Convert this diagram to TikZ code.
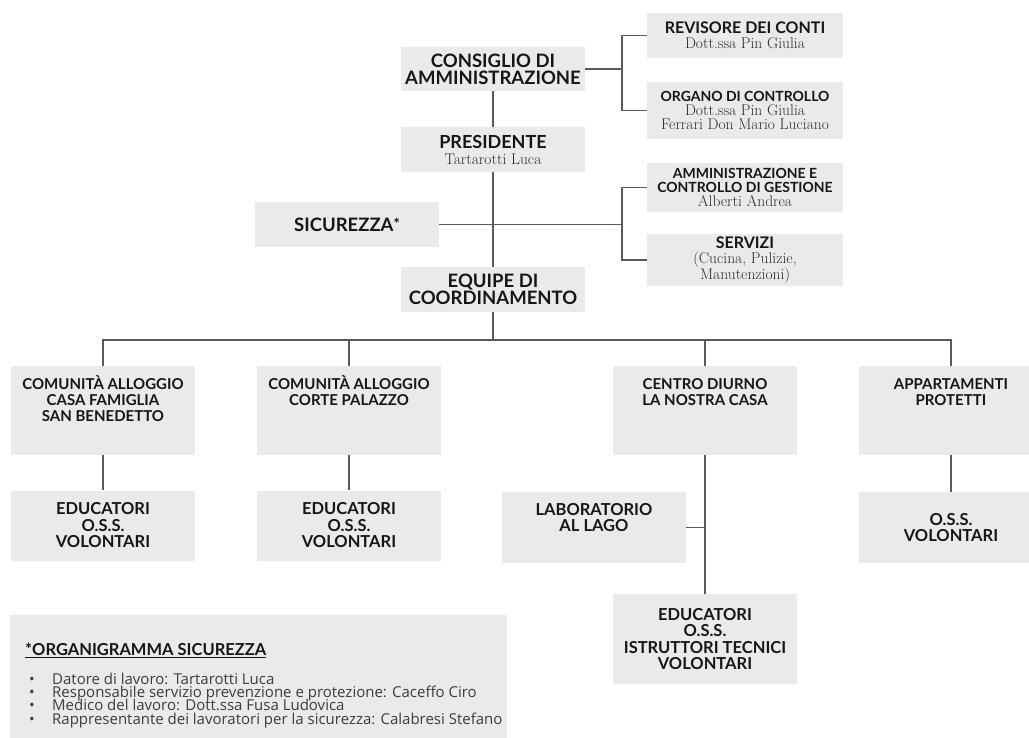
\documentclass[tikz,border=0pt]{standalone}
\usepackage{fontspec}
\newfontfamily\lato{Lato}
\newfontfamily\opensans{Open Sans}
\definecolor{boxgray}{RGB}{234,234,234}
\definecolor{linegray}{RGB}{95,88,88}
\definecolor{headtext}{RGB}{22,22,22}
\definecolor{nametext}{RGB}{45,45,45}
\definecolor{notetext}{RGB}{60,60,60}
\newcommand{\nm}[1]{{\rmfamily\mdseries\color{nametext}\fontsize{15.5}{14}\selectfont #1}}
\newcommand{\hsz}[2]{{\fontsize{#1}{#1}\selectfont #2}}
\newcommand{\toptext}[2]{\parbox[c][#1][t]{184pt}{\centering\rule{0pt}{23pt}#2}}
\newcommand{\notefont}{\opensans\fontsize{15}{13.2}\selectfont\lineskiplimit=-20pt\relax}
\begin{document}
\begin{tikzpicture}[x=1pt,y=-1pt,
  box/.style={fill=boxgray,inner sep=0pt,align=center,text=headtext},
  mainbox/.style={box,minimum width=184pt},
  sidebox/.style={box,minimum width=196pt},
  bighead/.style={font=\lato\bfseries\fontsize{18.5}{16.7}\selectfont},
  smallhead/.style={font=\lato\bfseries\fontsize{14}{14}\selectfont},
  lvone/.style={font=\lato\bfseries\fontsize{15}{16}\selectfont},
  lvtwo/.style={font=\lato\bfseries\fontsize{16.5}{16.5}\selectfont},
  conn/.style={draw=linegray,line width=1.2pt}]
\path[use as bounding box,clip] (0,0) rectangle (1029,738);

\node[mainbox,bighead,minimum height=44pt] (cda) at (493,69) {CONSIGLIO DI\\AMMINISTRAZIONE};
\node[mainbox,smallhead,minimum height=45pt] (pres) at (493,149.5) {\hsz{18}{PRESIDENTE}\\[2pt]\nm{Tartarotti Luca}};
\node[mainbox,bighead,minimum height=45pt] (sic) at (347,224.5) {SICUREZZA\raisebox{2pt}{\hsz{15}{*}}};
\node[mainbox,bighead,minimum height=45pt] (equ) at (493,289.5) {EQUIPE DI\\COORDINAMENTO};

\node[sidebox,smallhead,minimum height=45pt] (rev) at (745,35.5) {\hsz{16}{REVISORE DEI CONTI}\\[1pt]\nm{Dott.ssa Pin Giulia}};
\node[sidebox,smallhead,minimum height=57pt] (org) at (745,110.5) {ORGANO DI CONTROLLO\\\nm{Dott.ssa Pin Giulia}\\\nm{Ferrari Don Mario Luciano}};
\node[sidebox,smallhead,minimum height=49pt] (amm) at (745,187.5) {AMMINISTRAZIONE E\\CONTROLLO DI GESTIONE\\\nm{Alberti Andrea}};
\node[sidebox,smallhead,minimum height=52pt] (serv) at (745,260) {\hsz{16}{SERVIZI}\\[1pt]\nm{(Cucina, Pulizie,}\\\nm{Manutenzioni)}};

\node[mainbox,lvone] (ca1) at (103,410.5) {\toptext{89pt}{COMUNITÀ ALLOGGIO\\CASA FAMIGLIA\\SAN BENEDETTO}};
\node[mainbox,lvone] (ca2) at (349,410.5) {\toptext{89pt}{COMUNITÀ ALLOGGIO\\CORTE PALAZZO}};
\node[mainbox,lvone] (cd) at (705,410.5) {\toptext{89pt}{CENTRO DIURNO\\LA NOSTRA CASA}};
\node[mainbox,lvone] (ap) at (951,410.5) {\toptext{89pt}{APPARTAMENTI\\PROTETTI}};

\node[mainbox,lvtwo,minimum height=70pt] (ed1) at (103,525.5) {EDUCATORI\\O.S.S.\\VOLONTARI};
\node[mainbox,lvtwo,minimum height=70pt] (ed2) at (349,525.5) {EDUCATORI\\O.S.S.\\VOLONTARI};
\node[mainbox,lvtwo] (lab) at (594,527.5) {\toptext{71pt}{LABORATORIO\\AL LAGO}};
\node[mainbox,lvtwo,minimum height=71pt] (oss) at (951,527.5) {O.S.S.\\VOLONTARI};
\node[mainbox,lvtwo,minimum height=90pt] (ed3) at (705,639) {EDUCATORI\\O.S.S.\\ISTRUTTORI TECNICI\\VOLONTARI};

\coordinate (jt) at (622,69);
\coordinate (jm) at (622,224.5);
\coordinate (bus) at (493,340);
\coordinate (jl) at (705,527.5);

\draw[conn] (cda) edge (pres);
\draw[conn] (pres) edge (equ);
\draw[conn] (cda) -- (jt);
\draw[conn] (jt) |- (rev);
\draw[conn] (jt) |- (org);
\draw[conn] (sic) -- (jm);
\draw[conn] (jm) |- (amm);
\draw[conn] (jm) |- (serv);
\draw[conn] (equ) -- (bus);
\draw[conn] (bus) -| (ca1);
\draw[conn] (bus) -| (ca2);
\draw[conn] (bus) -| (cd);
\draw[conn] (bus) -| (ap);
\draw[conn] (ca1) edge (ed1);
\draw[conn] (ca2) edge (ed2);
\draw[conn] (cd) edge (ed3);
\draw[conn] (lab) -- (jl);
\draw[conn] (ap) edge (oss);

\node[fill=boxgray,inner sep=0pt,anchor=north west,minimum width=497pt,minimum height=130pt] (note) at (10,615) {};
\node[anchor=north west,inner sep=0pt,text=headtext,font=\lato\bfseries\fontsize{16.5}{16.5}\selectfont] (notetitle) at (25,642.5) {\underline{*ORGANIGRAMMA SICUREZZA}};
\node[anchor=north west,inner sep=0pt,align=left,text=notetext,font=\notefont] (notelist) at (29,673) {\makebox[23pt][l]{\textbullet}Datore di lavoro: Tartarotti Luca\\
\makebox[23pt][l]{\textbullet}Responsabile servizio prevenzione e protezione: Caceffo Ciro\\
\makebox[23pt][l]{\textbullet}Medico del lavoro: Dott.ssa Fusa Ludovica\\
\makebox[23pt][l]{\textbullet}Rappresentante dei lavoratori per la sicurezza: Calabresi Stefano};
\end{tikzpicture}
\end{document}
